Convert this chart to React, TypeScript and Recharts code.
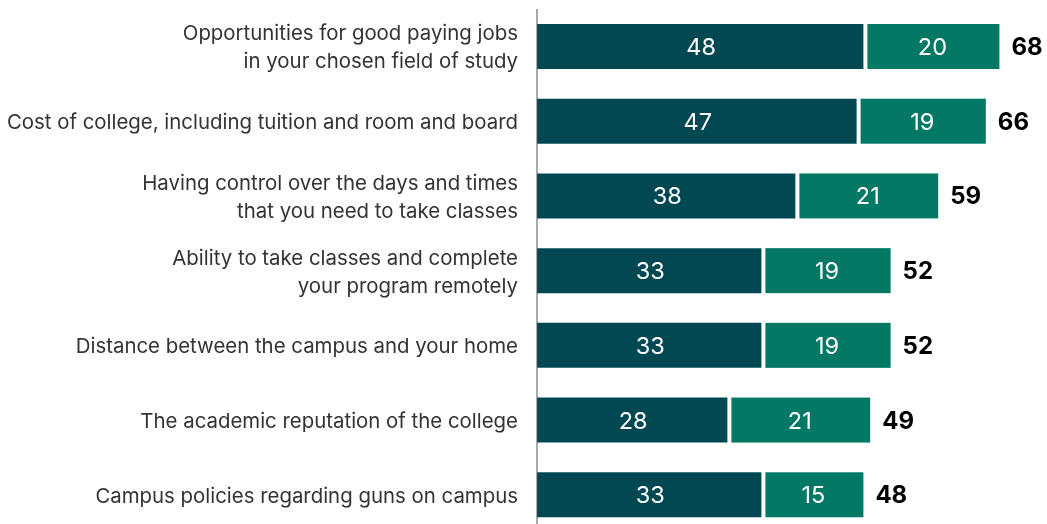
import { BarChart, Bar, XAxis, YAxis, LabelList } from "recharts";

const categories = [
  "Opportunities for good paying jobs\nin your chosen field of study",
  "Cost of college, including tuition and room and board",
  "Having control over the days and times\nthat you need to take classes",
  "Ability to take classes and complete\nyour program remotely",
  "Distance between the campus and your home",
  "The academic reputation of the college",
  "Campus policies regarding guns on campus",
];
const veryImportant = [48, 47, 38, 33, 33, 28, 33];
const somewhatImportant = [20, 19, 21, 19, 19, 21, 15];

const DARK = "#024852";
const GREEN = "#037865";
const FONT = "Inter, 'Noto Sans', sans-serif";

const data = categories.map((name, i) => ({
  name,
  a: veryImportant[i],
  b: somewhatImportant[i],
  total: veryImportant[i] + somewhatImportant[i],
}));

// eslint-disable-next-line @typescript-eslint/no-explicit-any
function CategoryTick({ x, y, payload }: any) {
  const lines = String(payload.value).split("\n");
  const lh = 28;
  const start = -((lines.length - 1) * lh) / 2;
  return (
    <text
      x={x - 19}
      y={y}
      textAnchor="end"
      dominantBaseline="central"
      fill="#333"
      fontSize={20.4}
      fontFamily={FONT}
    >
      {lines.map((l, i) => (
        <tspan key={i} x={x - 19} dy={i === 0 ? start : lh}>
          {l}
        </tspan>
      ))}
    </text>
  );
}

// second segment sits a few px off the first, leaving a white gap
// eslint-disable-next-line @typescript-eslint/no-explicit-any
function GapBar({ x, y, width, height, fill }: any) {
  return <rect x={x + 4} y={y} width={Math.max(width - 4, 0)} height={height} fill={fill} />;
}

// eslint-disable-next-line @typescript-eslint/no-explicit-any
function InnerLabel({ x, y, width, height, value }: any) {
  return (
    <text
      x={x + width / 2 + 1}
      y={y + height / 2}
      textAnchor="middle"
      dominantBaseline="central"
      fill="#fff"
      fontSize={23.5}
      fontFamily={FONT}
    >
      {value}
    </text>
  );
}

// eslint-disable-next-line @typescript-eslint/no-explicit-any
function TotalLabel({ x, y, width, height, value }: any) {
  return (
    <text
      x={x + width + 12}
      y={y + height / 2}
      textAnchor="start"
      dominantBaseline="central"
      fill="#000"
      fontSize={24}
      fontWeight={700}
      fontFamily={FONT}
    >
      {value}
    </text>
  );
}

export default function App() {
  return (
    <div style={{ position: "fixed", top: 8, left: 8 }}>
      <BarChart
        width={1039}
        height={524}
        data={data}
        layout="vertical"
        margin={{ top: 1, right: 0, bottom: 0, left: 0 }}
        barSize={45}
      >
        <XAxis type="number" domain={[0, 75]} hide />
        <YAxis
          type="category"
          dataKey="name"
          width={529}
          axisLine={{ stroke: "#555", strokeWidth: 1 }}
          tickLine={false}
          tickSize={0}
          tickMargin={0}
          interval={0}
          tick={<CategoryTick />}
        />
        <Bar dataKey="a" stackId="s" fill={DARK} isAnimationActive={false}>
          <LabelList dataKey="a" content={<InnerLabel />} />
        </Bar>
        <Bar dataKey="b" stackId="s" fill={GREEN} shape={<GapBar />} isAnimationActive={false}>
          <LabelList dataKey="b" content={<InnerLabel />} />
          <LabelList dataKey="total" content={<TotalLabel />} />
        </Bar>
      </BarChart>
    </div>
  );
}
